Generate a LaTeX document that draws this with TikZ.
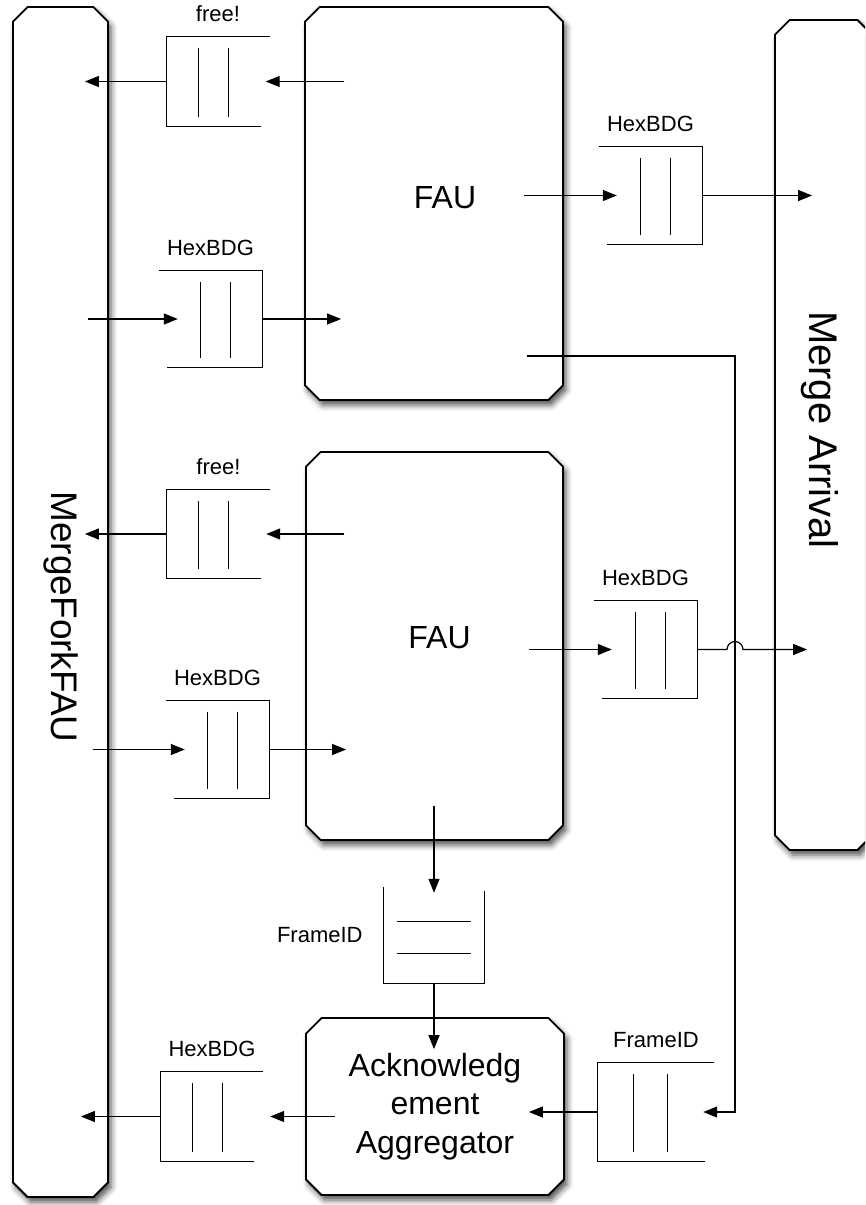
\documentclass[tikz,border=0pt]{standalone}
\usepackage{fontspec}
\setmainfont{Liberation Sans}
\usepackage{tikz}
\usetikzlibrary{arrows.meta,positioning,calc,shapes.misc,shadows.blur}
\newcommand{\qopenright}[1]{%
  \draw[qline] (#1.north east) -- (#1.north west) -- (#1.south west) -- ([xshift=-9pt]#1.south east);
  \draw[qline] ($(#1.north west)!0.31!(#1.north east)+(0,11)$) -- ($(#1.south west)!0.31!(#1.south east)+(0,-9)$);
  \draw[qline] ($(#1.north west)!0.6!(#1.north east)+(0,11)$) -- ($(#1.south west)!0.6!(#1.south east)+(0,-9)$);}
\newcommand{\qopenleft}[1]{%
  \draw[qline] (#1.north west) -- (#1.north east) -- (#1.south east) -- ([xshift=8pt]#1.south west);
  \draw[qline] ($(#1.north east)!0.31!(#1.north west)+(0,11)$) -- ($(#1.south east)!0.31!(#1.south west)+(0,-9)$);
  \draw[qline] ($(#1.north east)!0.6!(#1.north west)+(0,11)$) -- ($(#1.south east)!0.6!(#1.south west)+(0,-9)$);}
\newcommand{\qopentop}[1]{%
  \draw[qline] (#1.north west) -- (#1.south west) -- (#1.south east) -- ([yshift=-4pt]#1.north east);
  \draw[qline] ($(#1.south west)+(13,-62)$) -- ($(#1.south east)+(-13,-62)$);
  \draw[qline] ($(#1.south west)+(13,-30)$) -- ($(#1.south east)+(-13,-30)$);}

\begin{document}
\begin{tikzpicture}[x=1pt, y=-1pt,
    unit/.style={chamfered rectangle, chamfered rectangle xsep=12pt, draw=black, line width=1.8pt, fill=white, inner sep=0pt, align=center,
      blur shadow={shadow xshift=3pt, shadow yshift=-5pt, shadow blur radius=6pt, shadow opacity=70},
      font=\fontsize{32}{38.5}\selectfont},
    unitlabel/.style={font=\fontsize{32}{38.5}\selectfont, inner sep=0pt},
    bigtext/.style={font=\fontsize{37}{44}\selectfont, inner sep=0pt},
    queue/.style={minimum width=103pt, minimum height=96pt, inner sep=0pt},
    qlabel/.style={font=\fontsize{22}{26}\selectfont, inner sep=0pt, label distance=15pt},
    qline/.style={line width=1.2pt},
    link/.style={line width=1.2pt, -{Triangle[length=14pt,width=11pt]}}
]
\useasboundingbox (0,0) rectangle (865,1205);
\clip (0,0) rectangle (865,1205);

\node[unit, minimum width=95, minimum height=1190] (mff) at (60.5,602) {\phantom{M}};
\node[unit, minimum width=258, minimum height=393,
  label={[unitlabel, xshift=11pt, yshift=6pt]center:FAU}] (fau1) at (434,203.5) {\phantom{FAU}};
\node[unit, minimum width=257, minimum height=388,
  label={[unitlabel, xshift=5pt, yshift=8pt]center:FAU}] (fau2) at (434.5,646) {\phantom{FAU}};
\node[unit, minimum width=258, minimum height=177] (ack) at (435,1106.5) {Acknowledg\\ement\\Aggregator};
\node[unit, minimum width=97, minimum height=830] (ma) at (823.5,435) {\phantom{M}};
\node[bigtext, rotate=-90] (mfftext) at (61,617) {MergeForkFAU};
\node[bigtext, rotate=-90, font=\fontsize{40}{48}\selectfont] (matext) at (820,430) {Merge Arrival};

\node[queue, minimum height=89, label={[qlabel]above:free!}] (freetop) at (218,81.5) {};
\node[queue, minimum height=97, label={[qlabel]above:HexBDG}] (hexouttop) at (650.5,195.5) {};
\node[queue, label={[qlabel]above:HexBDG}] (hexintop) at (210.5,319) {};
\node[queue, minimum height=88, label={[qlabel]above:free!}] (freebot) at (218.5,534) {};
\node[queue, minimum height=97, label={[qlabel]above:HexBDG}] (hexoutbot) at (645.5,649.5) {};
\node[queue, minimum height=97, label={[qlabel]above:HexBDG}] (hexinbot) at (217.5,749.5) {};
\node[queue, minimum width=102, minimum height=89, label={[qlabel]above:HexBDG}] (hexack) at (212,1116.5) {};
\node[queue, minimum width=116, minimum height=98, label={[qlabel]above:FrameID}] (fidin) at (656,1112) {};
\node[queue, minimum width=100, label={[qlabel, label distance=21pt]left:FrameID}] (fidfau) at (434,935) {};
\coordinate (fb) at (735,356);

\qopenright{freetop}
\qopenleft{hexouttop}
\qopenleft{hexintop}
\qopenright{freebot}
\qopenleft{hexoutbot}
\qopenleft{hexinbot}
\qopenright{hexack}
\qopenright{fidin}
\qopentop{fidfau}

\draw[link] ($(fau1.west |- freetop)+(40,0)$) -- ($(freetop.east)+(-4,0)$);
\draw[link] (freetop.west) -- ($(mff.east |- freetop)+(-24,0)$);
\draw[link] ($(fau1.east |- hexouttop)+(-40,0)$) -- ($(hexouttop.west)+(18,0)$);
\draw[link] (hexouttop.east) -- ($(ma.west |- hexouttop)+(38,0)$);
\draw[link] ($(mff.east |- hexintop)+(-21,0)$) -- ($(hexintop.west)+(19,0)$);
\draw[link] (hexintop.east) -- ($(fau1.west |- hexintop)+(37,0)$);
\draw[link] ($(fau2.west |- freebot)+(39,0)$) -- ($(freebot.east)+(-4,0)$);
\draw[link] (freebot.west) -- ($(mff.east |- freebot)+(-24,0)$);
\draw[link] ($(fau2.east |- hexoutbot)+(-35,0)$) -- ($(hexoutbot.west)+(18,0)$);
\draw[link] (hexoutbot.east) -- ($(fb |- hexoutbot)+(-8,0)$) arc[start angle=180, end angle=0, radius=8pt] -- ($(ma.west |- hexoutbot)+(33,0)$);
\draw[link] ($(mff.east |- hexinbot)+(-16,0)$) -- ($(hexinbot.west)+(19,0)$);
\draw[link] (hexinbot.east) -- ($(fau2.west |- hexinbot)+(41,0)$);
\draw[link] ($(fau2.south -| fidfau)+(0,-35)$) -- ($(fidfau.north)+(0,6)$);
\draw[link] (fidfau.south) -- ($(ack.north -| fidfau)+(0,32)$);
\draw[link] ($(ack.west |- hexack)+(30,0)$) -- ($(hexack.east)+(7,0)$);
\draw[link] (hexack.west) -- ($(mff.east |- hexack)+(-28,0)$);
\draw[link] ($(fau1.east |- fb)+(-37,0)$) -- (fb) |- ($(fidin.east)+(-11,0)$);
\draw[link] (fidin.west) -- ($(ack.east |- fidin)+(-36,0)$);
\end{tikzpicture}
\end{document}
